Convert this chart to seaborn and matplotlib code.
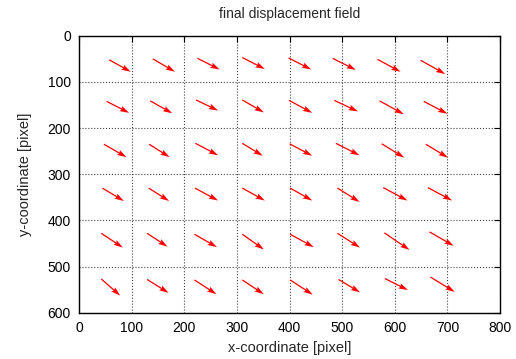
import numpy as np
import matplotlib
matplotlib.use("Agg")
import matplotlib.pyplot as plt
import seaborn as sns

# start points of the vectors (pixel coordinates), one list per grid row
x_start = [
    [57, 140, 225, 310, 398, 482, 567, 649],
    [52, 135, 222, 310, 399, 485, 571, 655],
    [47, 133, 221, 310, 400, 488, 575, 659],
    [44, 132, 220, 310, 401, 491, 578, 663],
    [42, 129, 219, 310, 401, 491, 580, 666],
    [42, 129, 219, 310, 401, 493, 581, 668],
]
y_start = [
    [52, 50, 49, 47, 48, 49, 51, 53],
    [142, 141, 139, 139, 140, 140, 141, 142],
    [235, 235, 233, 233, 234, 233, 234, 235],
    [330, 330, 330, 330, 330, 330, 329, 329],
    [428, 428, 430, 430, 430, 428, 427, 425],
    [527, 528, 529, 529, 529, 528, 526, 523],
]
# displacements
dx = [
    [41, 42, 42, 43, 43, 44, 44, 47],
    [43, 42, 42, 41, 44, 45, 46, 45],
    [43, 39, 43, 39, 43, 45, 43, 42],
    [41, 39, 44, 43, 42, 42, 46, 46],
    [41, 39, 43, 41, 45, 43, 48, 46],
    [36, 41, 42, 41, 43, 41, 44, 46],
]
dy = [
    [26, 28, 24, 25, 25, 25, 27, 30],
    [25, 27, 23, 27, 27, 24, 29, 27],
    [28, 28, 26, 27, 26, 26, 30, 29],
    [28, 28, 27, 27, 27, 30, 28, 28],
    [31, 29, 28, 33, 28, 31, 37, 30],
    [36, 29, 31, 31, 32, 28, 25, 32],
]

sns.set_style("white")
plt.rcParams['font.family'] = ['Liberation Sans', 'DejaVu Sans']

fig = plt.figure(figsize=(5.16, 3.59), dpi=100)
ax = fig.add_axes([0.1535, 0.129, 0.8155, 0.7713])

ax.quiver(np.ravel(x_start), np.ravel(y_start), np.ravel(dx), np.ravel(dy),
          angles='xy', scale_units='xy', scale=1, color='red',
          width=0.003, headwidth=4.5, headlength=7.5, headaxislength=6.5)

ax.set_xlim(0, 800)
ax.set_ylim(600, 0)
ax.set_xticks(range(0, 801, 100))
ax.set_yticks(range(0, 601, 100))
ax.grid(True, linestyle=':', color='#444444', linewidth=0.8)
ax.tick_params(direction='in', top=True, right=True, length=4, width=0.8,
               labelsize=10, colors='black', pad=6)
for s in ax.spines.values():
    s.set_color('black')
    s.set_linewidth(1.0)

ax.set_title('final displacement field', fontsize=10, pad=13)
ax.set_xlabel('x-coordinate [pixel]', fontsize=10.5, labelpad=4)
ax.set_ylabel('y-coordinate [pixel]', fontsize=10.5, labelpad=11)

fig.savefig('out.png', dpi=100)
